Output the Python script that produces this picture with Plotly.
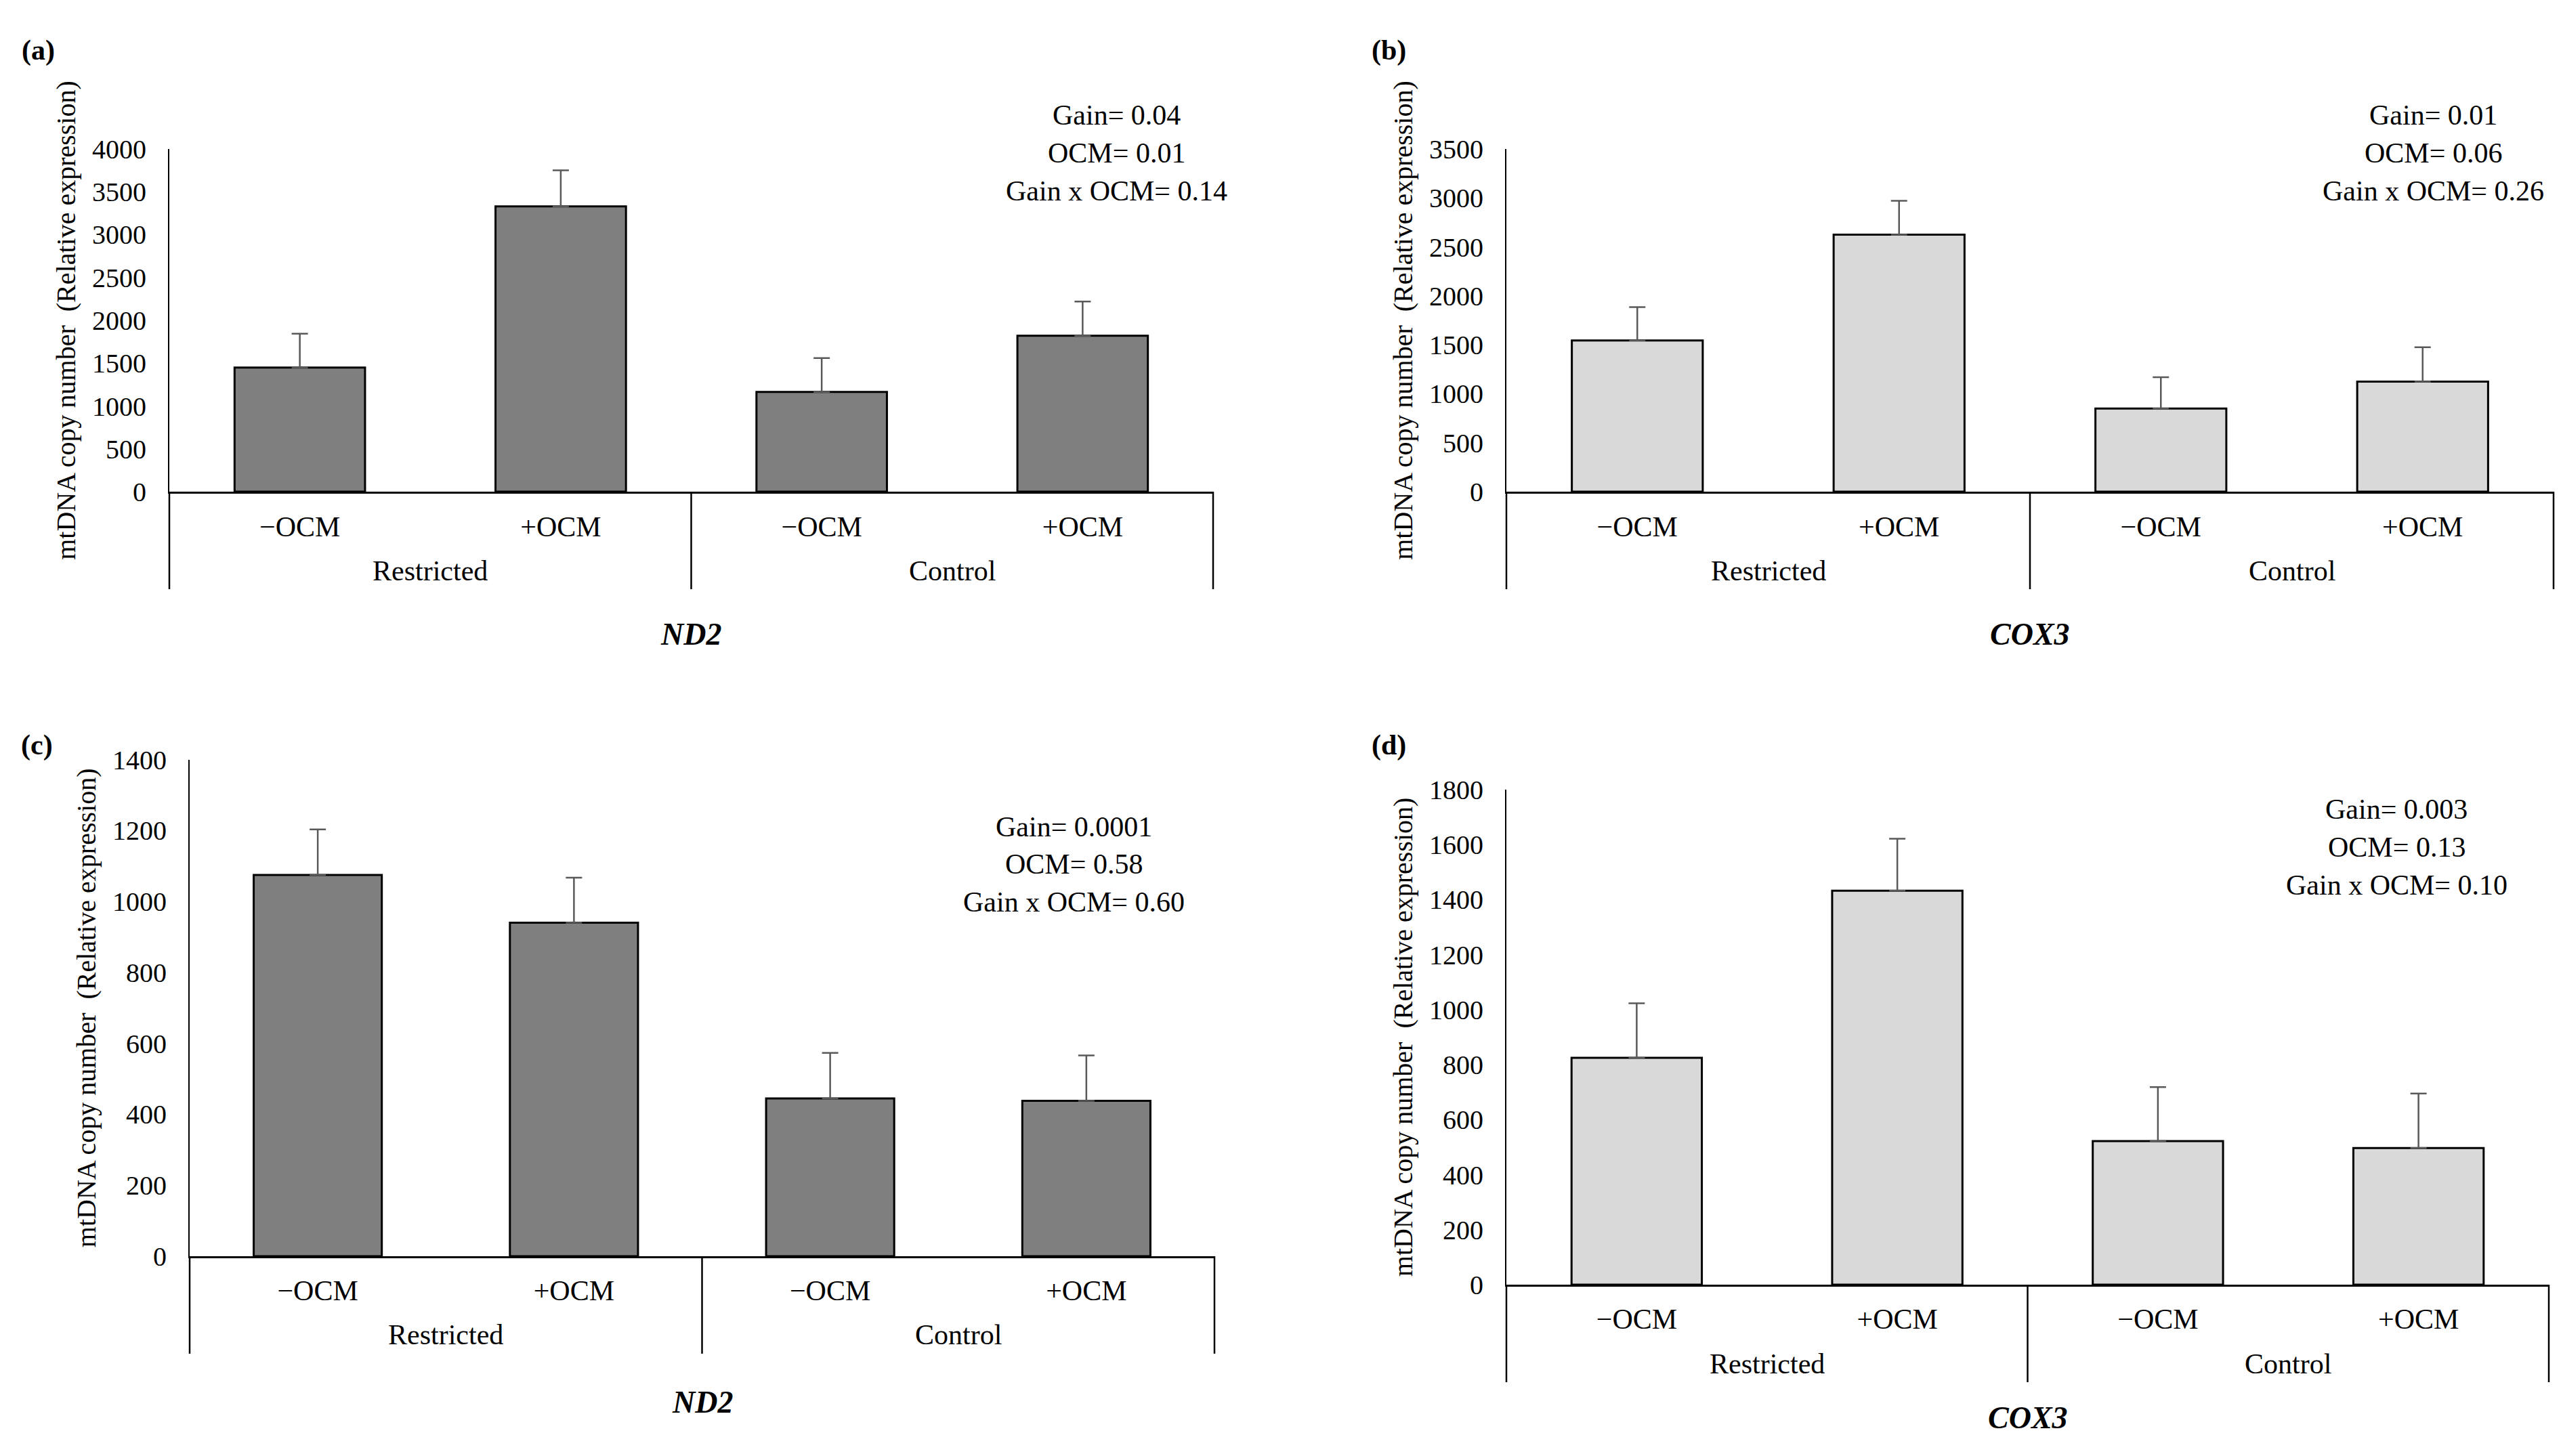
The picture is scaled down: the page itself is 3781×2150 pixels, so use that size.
import plotly.graph_objects as go

W, H = 3781, 2150

groups = ["Restricted", "Restricted", "Control", "Control"]
treatments = ["−OCM", "+OCM", "−OCM", "+OCM"]

nd2_a = [1450, 3330, 1165, 1820]
nd2_a_err = [395, 420, 395, 400]
cox3_b = [1545, 2625, 850, 1125]
cox3_b_err = [340, 345, 320, 350]
nd2_c = [1075, 940, 445, 438]
nd2_c_err = [128, 127, 128, 128]
cox3_d = [825, 1432, 522, 497]
cox3_d_err = [198, 189, 196, 198]

stats_a = ["Gain= 0.04", "OCM= 0.01", "Gain x OCM= 0.14"]
stats_b = ["Gain= 0.01", "OCM= 0.06", "Gain x OCM= 0.26"]
stats_c = ["Gain= 0.0001", "OCM= 0.58", "Gain x OCM= 0.60"]
stats_d = ["Gain= 0.003", "OCM= 0.13", "Gain x OCM= 0.10"]

DARK = "#7f7f7f"
LIGHT = "#d9d9d9"
FONT = "Liberation Serif"
BLACK = "black"

# panel boxes in pixels: (left, right, top, bottom)
panels = [
    dict(tag="(a)", gene="ND2", y=nd2_a, err=nd2_a_err, color=DARK, rng=4000, dtick=500,
         box=(242, 1783, 194, 711), stats=stats_a, sx=1640, sy=143, lab=(48, 45), gy=926),
    dict(tag="(b)", gene="COX3", y=cox3_b, err=cox3_b_err, color=LIGHT, rng=3500, dtick=500,
         box=(2216, 3762, 194, 711), stats=stats_b, sx=3584, sy=143, lab=(2042, 45), gy=926),
    dict(tag="(c)", gene="ND2", y=nd2_c, err=nd2_c_err, color=DARK, rng=1400, dtick=200,
         box=(272, 1785, 1115, 1864), stats=stats_c, sx=1577, sy=1216, lab=(46, 1093), gy=2084),
    dict(tag="(d)", gene="COX3", y=cox3_d, err=cox3_d_err, color=LIGHT, rng=1800, dtick=200,
         box=(2216, 3755, 1160, 1907), stats=stats_d, sx=3530, sy=1190, lab=(2042, 1093), gy=2108),
]

xi = list(range(len(treatments)))
# group extents along the category axis
group_names = list(dict.fromkeys(groups))
group_pos = {g: [i for i in xi if groups[i] == g] for g in group_names}
bounds = sorted({min(v) - 0.5 for v in group_pos.values()} | {max(v) + 0.5 for v in group_pos.values()})

fig = go.Figure()
layout = {}
for i, p in enumerate(panels):
    n = "" if i == 0 else str(i + 1)
    l, r, t, b = p["box"]
    fig.add_trace(go.Bar(
        x=xi, y=p["y"],
        xaxis="x" + n, yaxis="y" + n,
        marker=dict(color=p["color"], line=dict(color=BLACK, width=3)),
        error_y=dict(type="data", array=p["err"], arrayminus=[0] * len(xi), symmetric=False,
                     color="#595959", thickness=2.5, width=12),
        showlegend=False,
    ))
    layout["xaxis" + n] = dict(
        domain=[l / W, r / W], anchor="y" + n, range=[-0.5, len(xi) - 0.5],
        tickvals=xi, ticktext=treatments, ticks="", ticklabelstandoff=12,
        showline=True, linecolor=BLACK, linewidth=3, showgrid=False, zeroline=False,
        tickfont=dict(family=FONT, size=42, color=BLACK),
    )
    layout["yaxis" + n] = dict(
        domain=[1 - b / H, 1 - t / H], anchor="x" + n, range=[0, p["rng"]], dtick=p["dtick"],
        showline=True, linecolor=BLACK, linewidth=2, ticks="", showgrid=False, zeroline=False,
        ticklabelstandoff=24,
        tickfont=dict(family=FONT, size=40, color=BLACK),
        title=dict(text="mtDNA copy number  (Relative expression)", standoff=12,
                   font=dict(family=FONT, size=40, color=BLACK)),
    )
    # group labels and dividers under the category labels
    for g, pos in group_pos.items():
        fig.add_annotation(x=sum(pos) / len(pos), y=1 - (b + 119) / H, xref="x" + n, yref="paper",
                           text=g, showarrow=False, xanchor="center", yanchor="middle",
                           font=dict(family=FONT, size=42, color=BLACK))
    for bx in bounds:
        frac = (bx + 0.5) / len(xi)
        fig.add_shape(type="line", xref="x" + n + " domain", yref="paper",
                      x0=frac, x1=frac, y0=1 - b / H, y1=1 - (b + 147) / H,
                      line=dict(color=BLACK, width=2.5))
    for k, line in enumerate(p["stats"]):
        fig.add_annotation(x=p["sx"] / W, y=1 - (p["sy"] + 57 * k) / H, xref="paper", yref="paper",
                           text=line, showarrow=False, xanchor="center", yanchor="middle",
                           font=dict(family=FONT, size=42, color=BLACK))
    fig.add_annotation(x=p["lab"][0] / W, y=1 - p["lab"][1] / H, xref="paper", yref="paper",
                       text="<b>" + p["tag"] + "</b>", showarrow=False,
                       xanchor="center", yanchor="middle",
                       font=dict(family=FONT, size=42, color=BLACK))
    fig.add_annotation(x=(l + r) / 2 / W, y=1 - p["gy"] / H, xref="paper", yref="paper",
                       text="<b><i>" + p["gene"] + "</i></b>", showarrow=False,
                       xanchor="center", yanchor="middle",
                       font=dict(family=FONT, size=46, color=BLACK))

fig.update_layout(
    width=W, height=H, margin=dict(l=0, r=0, t=0, b=0),
    plot_bgcolor="white", paper_bgcolor="white",
    bargap=0.5,
    **layout,
)
fig.write_html("out.html")
